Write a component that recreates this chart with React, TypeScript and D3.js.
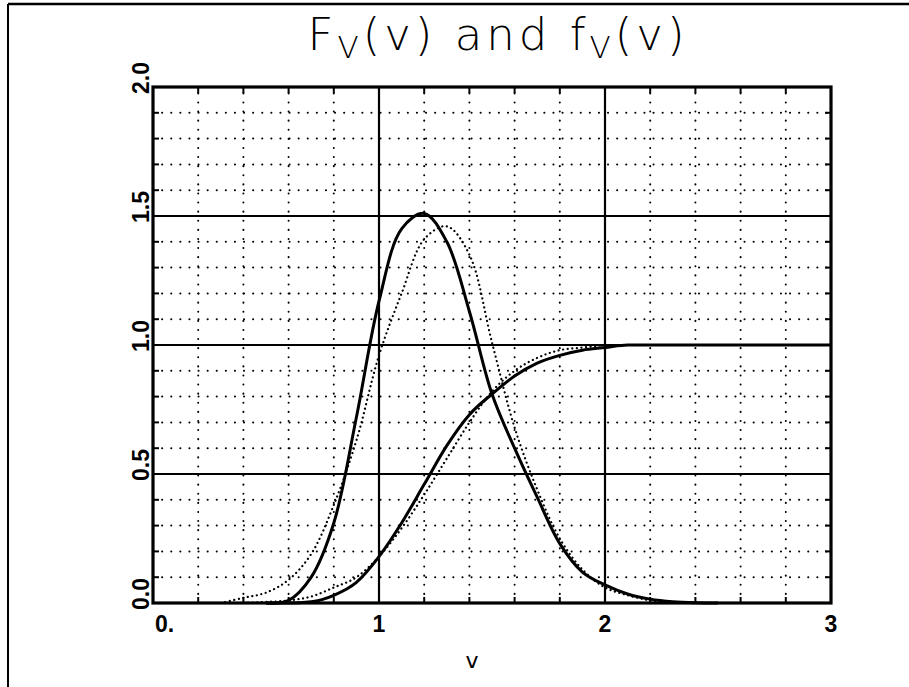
import React from 'react';
import * as d3 from 'd3';

// values (v step 0.1)
const vSolidPdf = [0.5, 0.6, 0.7, 0.8, 0.9, 1.0, 1.1, 1.2, 1.3, 1.4, 1.5, 1.6, 1.7, 1.8, 1.9, 2.0, 2.1, 2.2, 2.3, 2.4, 2.5];
const solidPdf = [0, 0.01, 0.1, 0.31, 0.72, 1.17, 1.45, 1.51, 1.4, 1.13, 0.81, 0.6, 0.41, 0.23, 0.12, 0.07, 0.035, 0.015, 0.005, 0.001, 0];

const vSolidCdf = [0.5, 0.6, 0.7, 0.8, 0.9, 1.0, 1.1, 1.2, 1.3, 1.4, 1.5, 1.6, 1.7, 1.8, 1.9, 2.0, 2.1, 2.4, 3.0];
const solidCdf = [0, 0, 0.005, 0.03, 0.08, 0.18, 0.31, 0.46, 0.61, 0.73, 0.81, 0.88, 0.93, 0.96, 0.98, 0.99, 1.0, 1.0, 1.0];

const vDotPdf = [0.3, 0.4, 0.5, 0.6, 0.7, 0.8, 0.9, 1.0, 1.1, 1.2, 1.3, 1.4, 1.5, 1.6, 1.7, 1.8, 1.9, 2.0, 2.1, 2.2, 2.3];
const dotPdf = [0, 0.02, 0.04, 0.09, 0.19, 0.38, 0.63, 0.96, 1.2, 1.41, 1.46, 1.35, 1.01, 0.68, 0.44, 0.25, 0.13, 0.06, 0.03, 0.01, 0];

const vDotCdf = [0.4, 0.5, 0.6, 0.7, 0.8, 0.9, 1.0, 1.1, 1.2, 1.3, 1.4, 1.5, 1.6, 1.7, 1.8, 1.9, 2.0];
const dotCdf = [0.001, 0.004, 0.01, 0.025, 0.06, 0.1, 0.18, 0.29, 0.42, 0.56, 0.7, 0.82, 0.9, 0.95, 0.98, 0.99, 1.0];

const xTickValues = [0, 1, 2, 3];
const xTickLabels = ['0.', '1', '2', '3'];
const yTickValues = [0, 0.5, 1.0, 1.5, 2.0];
const yTickLabels = ['0.0', '0.5', '1.0', '1.5', '2.0'];
const xMajorGrid = [1, 2];
const yMajorGrid = [0.5, 1.0, 1.5];

const W = 909;
const H = 687;
const left = 153, right = 831, top = 87, bottom = 603;

export default function App() {
  const x = d3.scaleLinear().domain([0, 3]).range([left, right]);
  const y = d3.scaleLinear().domain([0, 2]).range([bottom, top]);

  const smooth = d3.line<[number, number]>()
    .x(d => x(d[0]))
    .y(d => y(Math.max(0, d[1])))
    .curve(d3.curveCatmullRom.alpha(0.5));
  const mono = d3.line<[number, number]>()
    .x(d => x(d[0]))
    .y(d => y(d[1]))
    .curve(d3.curveMonotoneX);

  const zip = (a: number[], b: number[]) => a.map((v, i) => [v, b[i]] as [number, number]);

  // minor grid: x every 0.2, y every 0.1
  const xMinor = d3.range(1, 15).map(i => i * 0.2).filter(v => Math.abs(v - Math.round(v)) > 0.01);
  const yMinor = d3.range(1, 20).map(i => i * 0.1).filter(v => Math.abs(v * 2 - Math.round(v * 2)) > 0.01);
  const xSmallTicks = d3.range(1, 15).map(i => i * 0.2);
  const ySmallTicks = d3.range(1, 20).map(i => i * 0.1);

  const labelFont = '"Liberation Sans", "DejaVu Sans", sans-serif';

  return (
    <svg width={W} height={H} style={{ position: 'absolute', left: 0, top: 0, background: '#fff' }}>
      <rect x={0} y={0} width={W} height={H} fill="#fff" />
      {/* outer frame */}
      <line x1={8} y1={4} x2={W} y2={4} stroke="#000" strokeWidth={2.5} />
      <line x1={8} y1={4} x2={8} y2={H} stroke="#000" strokeWidth={2} />

      {/* title */}
      <text x={498} y={50} textAnchor="middle" fontFamily='"DejaVu Sans", sans-serif' fontWeight={200}
        fontSize={45} letterSpacing={4}>
        <tspan>F</tspan>
        <tspan fontSize={31} dy={8}>V</tspan>
        <tspan dy={-8}>(v) and f</tspan>
        <tspan fontSize={31} dy={8}>V</tspan>
        <tspan dy={-8}>(v)</tspan>
      </text>

      {/* dotted minor grid */}
      <g stroke="#000" strokeWidth={2} strokeLinecap="round" strokeDasharray="0.1 9">
        {xMinor.map(v => (
          <line key={'vx' + v} x1={x(v)} x2={x(v)} y1={bottom} y2={top} />
        ))}
        {yMinor.map(v => (
          <line key={'hy' + v} x1={left} x2={right} y1={y(v)} y2={y(v)} />
        ))}
      </g>

      {/* solid major grid */}
      <g stroke="#000" strokeWidth={2.2}>
        {xMajorGrid.map(v => (
          <line key={'mx' + v} x1={x(v)} x2={x(v)} y1={bottom} y2={top} />
        ))}
        {yMajorGrid.map(v => (
          <line key={'my' + v} x1={left} x2={right} y1={y(v)} y2={y(v)} />
        ))}
      </g>

      {/* small ticks */}
      <g stroke="#000" strokeWidth={2}>
        {xSmallTicks.map(v => (
          <g key={'tx' + v}>
            <line x1={x(v)} x2={x(v)} y1={bottom} y2={bottom - 6} />
            <line x1={x(v)} x2={x(v)} y1={top} y2={top + 6} />
          </g>
        ))}
        {ySmallTicks.map(v => (
          <g key={'ty' + v}>
            <line x1={left} x2={left + 6} y1={y(v)} y2={y(v)} />
            <line x1={right} x2={right - 6} y1={y(v)} y2={y(v)} />
          </g>
        ))}
      </g>

      {/* curves */}
      <path d={smooth(zip(vDotPdf, dotPdf)) || ''} fill="none" stroke="#000" strokeWidth={2.2}
        strokeLinecap="round" strokeDasharray="0.1 4.5" />
      <path d={mono(zip(vDotCdf, dotCdf)) || ''} fill="none" stroke="#000" strokeWidth={2.2}
        strokeLinecap="round" strokeDasharray="0.1 4.5" />
      <path d={smooth(zip(vSolidPdf, solidPdf)) || ''} fill="none" stroke="#000" strokeWidth={3} />
      <path d={mono(zip(vSolidCdf, solidCdf)) || ''} fill="none" stroke="#000" strokeWidth={3} />

      {/* frame */}
      <rect x={left} y={top} width={right - left} height={bottom - top} fill="none" stroke="#000" strokeWidth={3.2} />

      {/* x labels */}
      {xTickValues.map((v, i) => (
        <text key={'xl' + v} x={i === 0 ? x(v) + 2 : x(v)} y={632} textAnchor={i === 0 ? 'start' : 'middle'}
          fontFamily={labelFont} fontWeight="bold" fontSize={23}>
          {xTickLabels[i]}
        </text>
      ))}
      <text x={472} y={668} textAnchor="middle" fontFamily='"DejaVu Sans", sans-serif' fontSize={22}>v</text>

      {/* y labels */}
      {yTickValues.map((v, i) => (
        <text key={'yl' + v} transform={`translate(149,${y(v) - 9}) rotate(-90)`} textAnchor="middle"
          fontFamily={labelFont} fontWeight="bold" fontSize={23}>
          {yTickLabels[i]}
        </text>
      ))}
    </svg>
  );
}
